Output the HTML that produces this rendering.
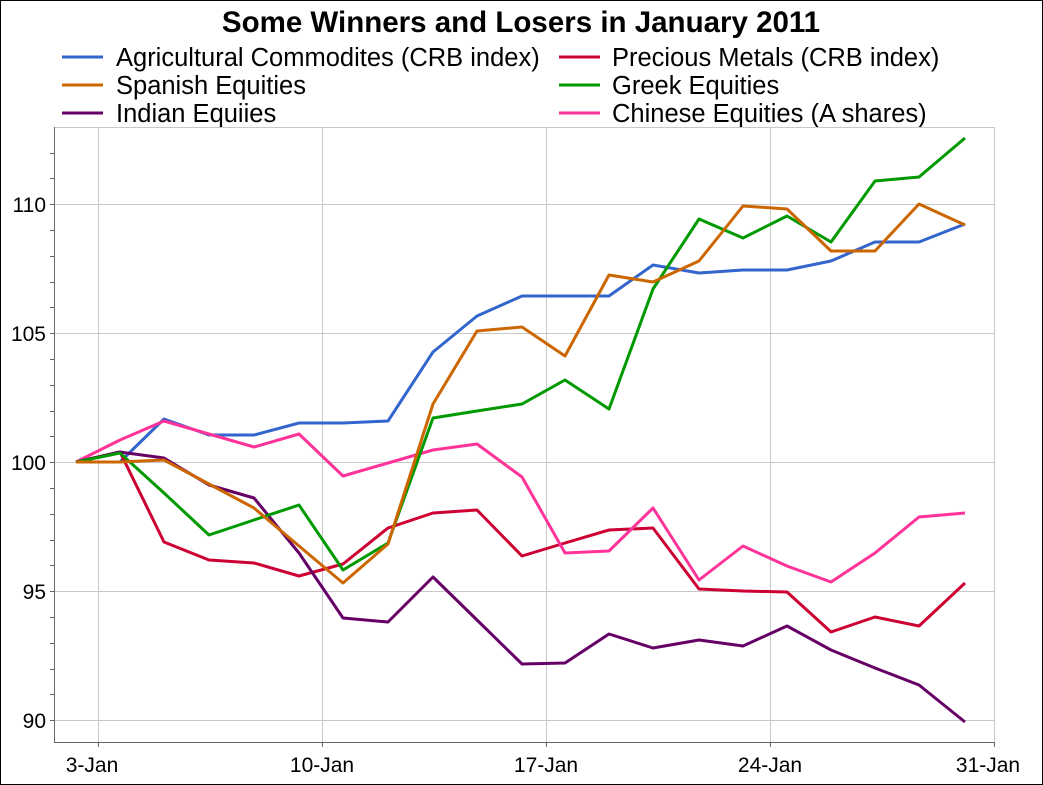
<!DOCTYPE html>
<html><head><meta charset="utf-8"><style>
body{margin:0;background:#fff;}
svg{display:block;font-family:"Liberation Sans",sans-serif;}
</style></head><body>
<svg width="1043" height="785" viewBox="0 0 1043 785">
<rect x="0.5" y="0.5" width="1042" height="784" fill="#fff" stroke="#000" stroke-width="1"/>
<text x="521" y="32" text-anchor="middle" font-size="29.5" font-weight="bold">Some Winners and Losers in January 2011</text>
<g font-size="25.5">
<line x1="62" y1="57" x2="103" y2="57" stroke="#3366cc" stroke-width="3"/><text x="116" y="66">Agricultural Commodites (CRB index)</text>
<line x1="62" y1="85" x2="103" y2="85" stroke="#cc6600" stroke-width="3"/><text x="116" y="94">Spanish Equities</text>
<line x1="62" y1="113" x2="103" y2="113" stroke="#660066" stroke-width="3"/><text x="116" y="122">Indian Equiies</text>
<line x1="559" y1="57" x2="600" y2="57" stroke="#cc0033" stroke-width="3"/><text x="612" y="66">Precious Metals (CRB index)</text>
<line x1="559" y1="85" x2="600" y2="85" stroke="#009900" stroke-width="3"/><text x="612" y="94">Greek Equities</text>
<line x1="559" y1="113" x2="600" y2="113" stroke="#ff3399" stroke-width="3"/><text x="612" y="122">Chinese Equities (A shares)</text>
</g>
<g stroke="#c8c8c8" stroke-width="1">
<line x1="54" y1="127.5" x2="994" y2="127.5"/>
<line x1="54" y1="204.5" x2="994" y2="204.5"/>
<line x1="54" y1="333.5" x2="994" y2="333.5"/>
<line x1="54" y1="462.5" x2="994" y2="462.5"/>
<line x1="54" y1="591.5" x2="994" y2="591.5"/>
<line x1="54" y1="720.5" x2="994" y2="720.5"/>
<line x1="98.5" y1="127" x2="98.5" y2="742"/>
<line x1="322.5" y1="127" x2="322.5" y2="742"/>
<line x1="546.5" y1="127" x2="546.5" y2="742"/>
<line x1="770.5" y1="127" x2="770.5" y2="742"/>
<line x1="994.5" y1="127" x2="994.5" y2="742"/>
</g>
<g stroke="#666" stroke-width="1">
<line x1="54.5" y1="127" x2="54.5" y2="742"/>
<line x1="54" y1="742.5" x2="994" y2="742.5"/>
<path d="M50 153.5h4M50 178.5h4M50 204.5h4M50 230.5h4M50 256.5h4M50 282.5h4M50 307.5h4M50 333.5h4M50 359.5h4M50 385.5h4M50 411.5h4M50 436.5h4M50 462.5h4M50 488.5h4M50 514.5h4M50 540.5h4M50 565.5h4M50 591.5h4M50 617.5h4M50 643.5h4M50 669.5h4M50 694.5h4M50 720.5h4"/>
<path d="M98.5 742v5M322.5 742v5M546.5 742v5M770.5 742v5M994.5 742v5"/>
</g>
<g font-size="21" text-anchor="end">
<text x="46" y="212">110</text><text x="46" y="341">105</text><text x="46" y="470">100</text><text x="46" y="599">95</text><text x="46" y="728">90</text>
</g>
<g font-size="21" text-anchor="middle">
<text x="92" y="772">3-Jan</text><text x="322" y="772">10-Jan</text><text x="546" y="772">17-Jan</text><text x="770" y="772">24-Jan</text><text x="988" y="772">31-Jan</text>
</g>
<g fill="none" stroke-width="3" stroke-linejoin="round">
<polyline stroke="#3366cc" points="76,462 120,462 164,419 209,435 254,435 299,423 343,423 388,421 433,352 477,316 522,296 565,296 609,296 653,265 699,273 743,270 787,270 831,261 875,242 919,242 965,224"/>
<polyline stroke="#cc0033" points="76,462 120,452 164,542 209,560 254,563 299,576 343,564 388,528 433,513 477,510 522,556 565,543 609,530 653,528 699,589 743,591 787,592 831,632 875,617 919,626 965,583"/>
<polyline stroke="#ff3399" points="76,462 120,440 164,421 209,434 254,447 299,434 343,476 388,463 433,450 477,444 522,477 565,553 609,551 653,508 699,580 743,546 787,566 831,582 875,553 919,517 965,513"/>
<polyline stroke="#660066" points="76,462 120,452 164,458 209,485 254,498 299,553 343,618 388,622 433,577 477,620 522,664 565,663 609,634 653,648 699,640 743,646 787,626 831,650 875,668 919,685 965,722"/>
<polyline stroke="#009900" points="76,462 120,453 164,493 209,535 254,520 299,505 343,570 388,543 433,418 477,411 522,404 565,380 609,409 653,289 699,219 743,238 787,216 831,242 875,181 919,177 965,138"/>
<polyline stroke="#cc6600" points="76,462 120,462 164,460 209,484 254,508 299,546 343,583 388,544 433,404 477,331 522,327 565,356 609,275 653,282 699,261 743,206 787,209 831,251 875,251 919,204 965,225"/>
</g>
</svg>
</body></html>
